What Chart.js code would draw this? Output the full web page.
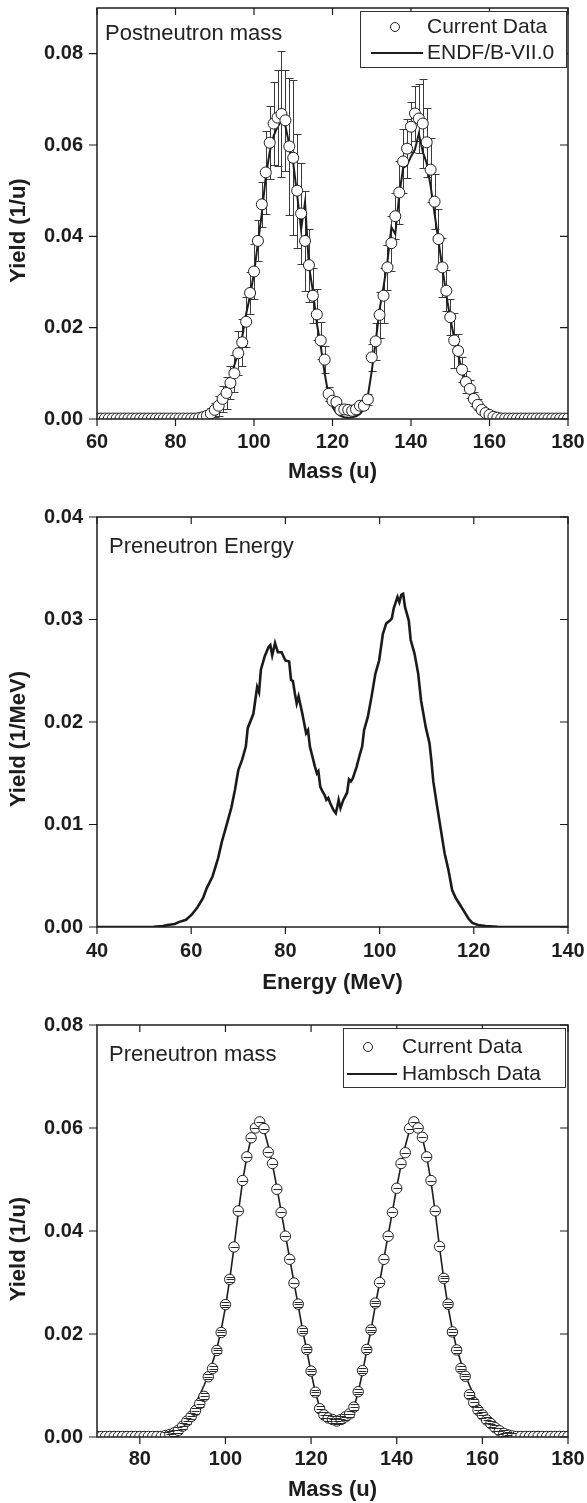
<!DOCTYPE html>
<html>
<head>
<meta charset="utf-8">
<script src="https://cdn.jsdelivr.net/npm/chart.js@4.4.1/dist/chart.umd.min.js"></script>
<style>
  html, body { margin: 0; padding: 0; background: #fff; }
  .panel { position: absolute; left: 0; width: 587px; }
  canvas { display: block; }
</style>
</head>
<body>
<div class="panel" style="top:0;height:500px"><canvas id="postMass" width="587" height="500"></canvas></div>
<div class="panel" style="top:500px;height:500px"><canvas id="preEnergy" width="587" height="500"></canvas></div>
<div class="panel" style="top:1000px;height:503px"><canvas id="preMass" width="587" height="503"></canvas></div>
<script>
// ---------- top panel: postneutron mass ----------
const postMass = [];
for (let m = 60; m <= 180; m++) postMass.push(m);

const postYield = [
  0.0001, 0.0001, 0.0001, 0.0001, 0.0001, 0.0001, 0.0001, 0.0001, 0.0001, 0.0001,
  0.0001, 0.0001, 0.0001, 0.0001, 0.0001, 0.0001, 0.0001, 0.0001, 0.0001, 0.0001,
  0.0001, 0.0001, 0.0001, 0.0001, 0.0001, 0.0001, 0.0002, 0.0004, 0.0007, 0.0012,
  0.0020, 0.0029, 0.0044, 0.0057, 0.0079, 0.0100, 0.0144, 0.0168, 0.0213, 0.0276,
  0.0323, 0.0390, 0.0470, 0.0540, 0.0605, 0.0647, 0.0660, 0.0668, 0.0654, 0.0597,
  0.0572, 0.0500, 0.0450, 0.0390, 0.0337, 0.0270, 0.0229, 0.0172, 0.0130, 0.0055,
  0.0040, 0.0037, 0.0020, 0.0021, 0.0020, 0.0018, 0.0021, 0.0029, 0.0029, 0.0043,
  0.0135, 0.0170, 0.0228, 0.0270, 0.0332, 0.0385, 0.0444, 0.0496, 0.0564, 0.0592,
  0.0640, 0.0669, 0.0658, 0.0647, 0.0606, 0.0546, 0.0476, 0.0394, 0.0332, 0.0281,
  0.0223, 0.0172, 0.0149, 0.0108, 0.0081, 0.0066, 0.0044, 0.0031, 0.0020, 0.0013,
  0.0009, 0.0005, 0.0003, 0.0001, 0.0001, 0.0001, 0.0001, 0.0001, 0.0001, 0.0001,
  0.0001, 0.0001, 0.0001, 0.0001, 0.0001, 0.0001, 0.0001, 0.0001, 0.0001, 0.0001,
  0.0001
];

const postErr = [
  0, 0, 0, 0, 0, 0, 0, 0, 0, 0,
  0, 0, 0, 0, 0, 0, 0, 0, 0, 0,
  0, 0, 0, 0, 0, 0, 0.0003, 0.0005, 0.0008, 0.0012,
  0.0016, 0.0022, 0.0028, 0.0035, 0.0036, 0.0040, 0.0048, 0.0052, 0.0055, 0.0045,
  0.0060, 0.0045, 0.0050, 0.0090, 0.0080, 0.0090, 0.0105, 0.0137, 0.0110, 0.0150,
  0.0170, 0.0125, 0.0110, 0.0110, 0.0080, 0.0060, 0.0055, 0.0040, 0.0030, 0.0015,
  0.0010, 0.0010, 0.0006, 0.0006, 0.0006, 0.0006, 0.0006, 0.0008, 0.0008, 0.0012,
  0.0030, 0.0040, 0.0050, 0.0060, 0.0050, 0.0060, 0.0050, 0.0070, 0.0070, 0.0065,
  0.0055, 0.0060, 0.0075, 0.0098, 0.0075, 0.0070, 0.0060, 0.0065, 0.0065, 0.0045,
  0.0040, 0.0060, 0.0038, 0.0028, 0.0025, 0.0020, 0.0016, 0.0012, 0.0009, 0.0006,
  0.0004, 0.0002, 0.0001, 0, 0, 0, 0, 0, 0, 0,
  0, 0, 0, 0, 0, 0, 0, 0, 0, 0,
  0
];

const endfYield = [
  0.0001, 0.0001, 0.0001, 0.0001, 0.0001, 0.0001, 0.0001, 0.0001, 0.0001, 0.0001,
  0.0001, 0.0001, 0.0001, 0.0001, 0.0001, 0.0001, 0.0001, 0.0001, 0.0001, 0.0001,
  0.0001, 0.0001, 0.0001, 0.0001, 0.0001, 0.0002, 0.0003, 0.0006, 0.0012, 0.0018,
  0.0027, 0.0038, 0.0052, 0.0068, 0.0088, 0.0118, 0.0146, 0.0180, 0.0230, 0.0270,
  0.0320, 0.0385, 0.0450, 0.0530, 0.0585, 0.0620, 0.0640, 0.0652, 0.0642, 0.0600,
  0.0560, 0.0490, 0.0415, 0.0475, 0.0335, 0.0280, 0.0210, 0.0160, 0.0100, 0.0052,
  0.0026, 0.0013, 0.0007, 0.0004, 0.0003, 0.0004, 0.0006, 0.0011, 0.0022, 0.0050,
  0.0105, 0.0170, 0.0240, 0.0290, 0.0345, 0.0420, 0.0405, 0.0490, 0.0550, 0.0556,
  0.0575, 0.0590, 0.0625, 0.0585, 0.0560, 0.0510, 0.0450, 0.0390, 0.0330, 0.0272,
  0.0220, 0.0178, 0.0140, 0.0108, 0.0082, 0.0062, 0.0045, 0.0032, 0.0022, 0.0014,
  0.0009, 0.0005, 0.0003, 0.0002, 0.0001, 0.0001, 0.0001, 0.0001, 0.0001, 0.0001,
  0.0001, 0.0001, 0.0001, 0.0001, 0.0001, 0.0001, 0.0001, 0.0001, 0.0001, 0.0001,
  0.0001
];

const postMassTicks = [60, 70, 80, 90, 100, 110, 120, 130, 140, 150, 160, 170, 180];
const postMassLabels = [60, 80, 100, 120, 140, 160, 180];
const postYieldTicks = [0, 0.01, 0.02, 0.03, 0.04, 0.05, 0.06, 0.07, 0.08, 0.09];
const postYieldLabels = [0, 0.02, 0.04, 0.06, 0.08];

// ---------- middle panel: preneutron energy ----------
const energyMeV = [
  40, 45, 50, 52, 54, 55, 56.5, 57.5, 58.9, 60.1, 61.3, 62.5, 63.3, 64.5, 65.7, 66.5,
  67.3, 68.5, 69.3, 70.0, 70.8, 71.6, 72.0, 73.2, 74.0, 74.4, 74.8, 75.6, 76.4, 76.8,
  77.2, 77.8, 78.4, 79.2, 80.0, 80.8, 81.2, 81.6, 82.0, 82.4, 82.8, 83.6, 84.4, 84.8,
  85.2, 86.3, 86.7, 87.0, 87.4, 87.9, 88.3, 88.7, 89.1, 89.5, 90.2, 90.7, 91.0, 91.3,
  91.7, 92.3, 93.1, 93.5, 93.9, 94.3, 95.1, 95.9, 96.3, 96.7, 97.5, 98.3, 99.1, 99.9,
  100.7, 101.4, 102.2, 102.6, 103.0, 103.8, 104.2, 104.6, 105.0, 105.4, 106.2, 106.6,
  107.4, 108.2, 108.8, 109.8, 110.6, 111.0, 111.4, 112.2, 113.0, 113.8, 114.6, 115.4,
  116.2, 117.3, 118.1, 118.9, 119.7, 120.9, 122.5, 125, 130, 135, 140
];
const energyYield = [
  0, 0, 0, 0.00003, 0.0001, 0.0002, 0.0003, 0.0005, 0.0007, 0.0012, 0.0019, 0.0028, 0.0038, 0.0049, 0.0067, 0.0083,
  0.0096, 0.0116, 0.0134, 0.0153, 0.0163, 0.0176, 0.0194, 0.0208, 0.0234, 0.0229, 0.0251, 0.0264, 0.0273, 0.0275,
  0.0265, 0.0277, 0.0268, 0.0268, 0.0260, 0.0259, 0.0241, 0.0240, 0.0228, 0.0218, 0.0225, 0.0208, 0.0189, 0.0192,
  0.0176, 0.0156, 0.0150, 0.0152, 0.0137, 0.0132, 0.0129, 0.0124, 0.0126, 0.0121, 0.0114, 0.0111, 0.0117, 0.0124,
  0.0116, 0.0124, 0.0131, 0.0144, 0.0142, 0.0145, 0.0156, 0.0170, 0.0176, 0.0192, 0.0205, 0.0225, 0.0247, 0.0260,
  0.0286, 0.0296, 0.0299, 0.0301, 0.0311, 0.0322, 0.0317, 0.0324, 0.0325, 0.0312, 0.0299, 0.0280,
  0.0267, 0.0247, 0.0221, 0.0195, 0.0179, 0.0162, 0.0142, 0.0118, 0.0095, 0.0072, 0.0056, 0.0036,
  0.0028, 0.0020, 0.0014, 0.0008, 0.0004, 0.0002, 0.0001, 0.00003, 0, 0, 0
];
const energyTicks = [40, 50, 60, 70, 80, 90, 100, 110, 120, 130, 140];
const energyLabels = [40, 60, 80, 100, 120, 140];
const energyYieldTicks = [0, 0.005, 0.01, 0.015, 0.02, 0.025, 0.03, 0.035, 0.04];
const energyYieldLabels = [0, 0.01, 0.02, 0.03, 0.04];

// ---------- bottom panel: preneutron mass ----------
const preMass = [];
for (let m = 70; m <= 180; m++) preMass.push(m);

const preYield = [
  0.0001, 0.0001, 0.0001, 0.0001, 0.0001, 0.0001, 0.0001, 0.0001, 0.0001, 0.0001,
  0.0001, 0.0001, 0.0001, 0.0001, 0.0001, 0.0001, 0.0003, 0.0005, 0.0008, 0.0013,
  0.0021, 0.0031, 0.0040, 0.0051, 0.0065, 0.0079, 0.0117, 0.0133, 0.0168, 0.0203,
  0.0257, 0.0306, 0.0369, 0.0439, 0.0498, 0.0544, 0.0581, 0.0600, 0.0612, 0.0599,
  0.0553, 0.0531, 0.0481, 0.0436, 0.0390, 0.0345, 0.0299, 0.0258, 0.0206, 0.0170,
  0.0128, 0.0087, 0.0055, 0.0043, 0.0037, 0.0034, 0.0031, 0.0034, 0.0039, 0.0045,
  0.0058, 0.0088, 0.0129, 0.0170, 0.0208, 0.0260, 0.0300, 0.0345, 0.0390, 0.0436,
  0.0483, 0.0531, 0.0552, 0.0599, 0.0612, 0.0600, 0.0582, 0.0544, 0.0498, 0.0439,
  0.0370, 0.0308, 0.0258, 0.0204, 0.0169, 0.0133, 0.0118, 0.0082, 0.0067, 0.0052,
  0.0043, 0.0033, 0.0026, 0.0018, 0.0012, 0.0007, 0.0004, 0.0002, 0.0001, 0.0001,
  0.0001, 0.0001, 0.0001, 0.0001, 0.0001, 0.0001, 0.0001, 0.0001, 0.0001, 0.0001,
  0.0001
];

const preErr = [
  0, 0, 0, 0, 0, 0, 0, 0, 0, 0,
  0, 0, 0, 0, 0, 0, 0.0006, 0.0006, 0.0006, 0.0006,
  0.0006, 0.0006, 0.0006, 0.0006, 0.0006, 0.0006, 0.0005, 0.0005, 0.0005, 0.0005,
  0.0005, 0.0005, 0, 0, 0, 0, 0, 0, 0, 0,
  0, 0, 0, 0, 0, 0, 0, 0.0005, 0.0005, 0.0005,
  0.0005, 0.0005, 0.0006, 0.0006, 0.0006, 0.0006, 0.0006, 0.0006, 0.0006, 0.0006,
  0.0006, 0.0005, 0.0005, 0.0005, 0.0005, 0.0005, 0, 0, 0, 0,
  0, 0, 0, 0, 0, 0, 0, 0, 0, 0,
  0, 0.0005, 0.0005, 0.0005, 0.0005, 0.0005, 0.0005, 0.0006, 0.0006, 0.0006,
  0.0006, 0.0006, 0.0006, 0.0006, 0.0006, 0.0006, 0.0006, 0.0006, 0, 0,
  0, 0, 0, 0, 0, 0, 0, 0, 0, 0,
  0
];

const hambschYield = [
  0.0001, 0.0001, 0.0001, 0.0001, 0.0001, 0.0001, 0.0001, 0.0001, 0.0001, 0.0001,
  0.0001, 0.0001, 0.0001, 0.0001, 0.0001, 0.0003, 0.0005, 0.0008, 0.0013, 0.0019,
  0.0027, 0.0037, 0.0050, 0.0065, 0.0082, 0.0100, 0.0121, 0.0145, 0.0172, 0.0208,
  0.0252, 0.0306, 0.0368, 0.0436, 0.0496, 0.0545, 0.0580, 0.0598, 0.0607, 0.0596,
  0.0565, 0.0528, 0.0485, 0.0438, 0.0392, 0.0347, 0.0300, 0.0255, 0.0208, 0.0168,
  0.0125, 0.0087, 0.0058, 0.0042, 0.0035, 0.0031, 0.0030, 0.0031, 0.0035, 0.0042,
  0.0058, 0.0087, 0.0125, 0.0168, 0.0208, 0.0255, 0.0300, 0.0347, 0.0392, 0.0438,
  0.0485, 0.0528, 0.0565, 0.0596, 0.0607, 0.0598, 0.0580, 0.0545, 0.0496, 0.0436,
  0.0368, 0.0306, 0.0252, 0.0208, 0.0172, 0.0145, 0.0121, 0.0100, 0.0082, 0.0065,
  0.0050, 0.0037, 0.0027, 0.0019, 0.0013, 0.0008, 0.0005, 0.0003, 0.0001, 0.0001,
  0.0001, 0.0001, 0.0001, 0.0001, 0.0001, 0.0001, 0.0001, 0.0001, 0.0001, 0.0001,
  0.0001
];
const preMassTicks = [70, 80, 90, 100, 110, 120, 130, 140, 150, 160, 170, 180];
const preMassLabels = [80, 100, 120, 140, 160, 180];
const preYieldTicks = [0, 0.01, 0.02, 0.03, 0.04, 0.05, 0.06, 0.07, 0.08];
const preYieldLabels = [0, 0.02, 0.04, 0.06, 0.08];

// ---------- drawing helpers ----------
const fontFamily = '"Liberation Sans", Arial, Helvetica, sans-serif';
const ink = '#1d1d1d';

Chart.defaults.font.family = fontFamily;

function pairs(xs, ys) {
  return xs.map((x, i) => ({ x: x, y: ys[i] }));
}

function tickLabel(labels, digits) {
  return function (value) {
    const hit = labels.some(l => Math.abs(l - value) < 1e-9);
    if (!hit) return null;
    return value.toFixed(digits);
  };
}

// frame with ticks on all four sides, plus y title, note and legend box
const framePlugin = {
  id: 'frame',
  afterDraw(chart, args, opts) {
    const { ctx, chartArea: a, scales: { x, y } } = chart;
    ctx.save();
    ctx.strokeStyle = ink;
    ctx.lineWidth = 1.5;
    ctx.strokeRect(a.left, a.top, a.right - a.left, a.bottom - a.top);

    ctx.lineWidth = 1.2;
    ctx.beginPath();
    x.ticks.forEach(t => {
      const px = x.getPixelForValue(t.value);
      const major = t.label !== null && t.label !== undefined;
      ctx.moveTo(px, a.bottom);
      ctx.lineTo(px, a.bottom + (major ? 7 : 5));
      ctx.moveTo(px, a.top);
      ctx.lineTo(px, a.top + (major ? 7 : 6));
    });
    y.ticks.forEach(t => {
      const py = y.getPixelForValue(t.value);
      const major = t.label !== null && t.label !== undefined;
      ctx.moveTo(a.left, py);
      ctx.lineTo(a.left - (major ? 8 : 6), py);
      ctx.moveTo(a.right, py);
      ctx.lineTo(a.right - (major ? 8 : 6), py);
    });
    ctx.stroke();

    // y axis title
    ctx.fillStyle = ink;
    ctx.font = 'bold 22px ' + fontFamily;
    ctx.textAlign = 'center';
    ctx.textBaseline = 'middle';
    ctx.save();
    ctx.translate(opts.yTitleX, (a.top + a.bottom) / 2 + opts.yTitleShift);
    ctx.rotate(-Math.PI / 2);
    ctx.fillText(opts.yTitle, 0, 0);
    ctx.restore();

    // panel note
    ctx.font = '22px ' + fontFamily;
    ctx.textAlign = 'left';
    ctx.fillStyle = '#222';
    ctx.fillText(opts.note.text, opts.note.x, opts.note.y);

    // legend
    if (opts.legend) {
      const L = opts.legend;
      ctx.fillStyle = '#fff';
      ctx.fillRect(L.box[0], L.box[1], L.box[2] - L.box[0], L.box[3] - L.box[1]);
      ctx.strokeStyle = '#333';
      ctx.lineWidth = 1;
      ctx.strokeRect(L.box[0] + 0.5, L.box[1] + 0.5, L.box[2] - L.box[0], L.box[3] - L.box[1]);
      ctx.font = '21px ' + fontFamily;
      L.items.forEach(it => {
        ctx.strokeStyle = ink;
        if (it.kind === 'circle') {
          ctx.lineWidth = 1;
          ctx.beginPath();
          ctx.arc(it.sx, it.y, it.r, 0, Math.PI * 2);
          ctx.stroke();
        } else {
          ctx.lineWidth = 2;
          ctx.beginPath();
          ctx.moveTo(it.sx, it.y);
          ctx.lineTo(it.ex, it.y);
          ctx.stroke();
        }
        ctx.fillStyle = '#222';
        ctx.fillText(it.text, L.textX, it.y);
      });
    }
    ctx.restore();
  }
};

// vertical error bars (behind the markers) or cap stripes (over the markers)
function drawErrors(chart, opts) {
  const { ctx, chartArea: a, scales: { x, y } } = chart;
  const ds = chart.data.datasets[opts.dataset];
  ctx.save();
  ctx.beginPath();
  ctx.rect(a.left, a.top, a.right - a.left, a.bottom - a.top);
  ctx.clip();
  ctx.strokeStyle = opts.color;
  ctx.lineWidth = 1;
  ctx.beginPath();
  ds.data.forEach((p, i) => {
    const e = opts.errors[i];
    const px = Math.round(x.getPixelForValue(p.x)) + 0.5;
    if (opts.center && p.y > 0.0003) {
      const cy = Math.round(y.getPixelForValue(p.y)) + 0.5;
      ctx.moveTo(px - opts.cap, cy);
      ctx.lineTo(px + opts.cap, cy);
    }
    if (!e) return;
    const top = Math.round(y.getPixelForValue(p.y + e)) + 0.5;
    const bot = Math.round(y.getPixelForValue(p.y - e)) + 0.5;
    if (opts.stem) {
      ctx.moveTo(px, top);
      ctx.lineTo(px, bot);
    }
    ctx.moveTo(px - opts.cap, top);
    ctx.lineTo(px + opts.cap, top);
    ctx.moveTo(px - opts.cap, bot);
    ctx.lineTo(px + opts.cap, bot);
  });
  ctx.stroke();
  ctx.restore();
}

const errorPlugin = {
  id: 'errorBars',
  beforeDatasetsDraw(chart, args, opts) {
    if (opts.errors && !opts.over) drawErrors(chart, opts);
  },
  afterDatasetsDraw(chart, args, opts) {
    if (opts.errors && opts.over) drawErrors(chart, opts);
  }
};

const tickFont = { family: fontFamily, size: 20, weight: 'bold' };
const titleFont = { family: fontFamily, size: 22, weight: 'bold' };

function makeChart(id, cfg) {
  return new Chart(document.getElementById(id), {
    type: 'scatter',
    data: { datasets: cfg.datasets },
    options: {
      responsive: false,
      animation: false,
      events: [],
      layout: { padding: cfg.padding },
      plugins: {
        legend: { display: false },
        tooltip: { enabled: false },
        frame: cfg.frame,
        errorBars: cfg.errorBars || {}
      },
      scales: {
        x: {
          type: 'linear',
          min: cfg.xMin,
          max: cfg.xMax,
          afterBuildTicks: s => { s.ticks = cfg.xTicks.map(v => ({ value: v })); },
          afterFit: s => {
            s.height = cfg.xHeight;
            s.paddingLeft = 0;
            s.paddingRight = 0;
          },
          grid: { display: false, drawTicks: false },
          border: { display: false },
          ticks: {
            autoSkip: false, maxRotation: 0, padding: cfg.xPad, color: ink,
            font: tickFont, callback: tickLabel(cfg.xLabels, 0)
          },
          title: {
            display: true, text: cfg.xTitle, color: ink, font: titleFont,
            padding: { top: 0, bottom: cfg.xTitlePad }
          }
        },
        y: {
          type: 'linear',
          min: cfg.yMin,
          max: cfg.yMax,
          afterBuildTicks: s => { s.ticks = cfg.yTicks.map(v => ({ value: v })); },
          afterFit: s => {
            s.width = 97;
            s.paddingTop = 0;
            s.paddingBottom = 0;
          },
          grid: { display: false, drawTicks: false },
          border: { display: false },
          ticks: {
            autoSkip: false, padding: 14, color: ink,
            font: tickFont, callback: tickLabel(cfg.yLabels, 2)
          }
        }
      }
    },
    plugins: [framePlugin, errorPlugin]
  });
}

// top panel
makeChart('postMass', {
  padding: { top: 8, right: 19, bottom: 0, left: 0 },
  xMin: 60, xMax: 180, xTicks: postMassTicks, xLabels: postMassLabels,
  yMin: 0, yMax: 0.09, yTicks: postYieldTicks, yLabels: postYieldLabels,
  xHeight: 81, xPad: 11, xTitle: 'Mass (u)', xTitlePad: 15,
  datasets: [
    {
      label: 'Current Data',
      data: pairs(postMass, postYield),
      pointRadius: 5.5, pointBorderWidth: 1,
      pointBackgroundColor: '#fff', pointBorderColor: ink,
      showLine: false, clip: 0, order: 1
    },
    {
      label: 'ENDF/B-VII.0',
      data: pairs(postMass, endfYield),
      showLine: true, borderColor: ink, borderWidth: 2, pointRadius: 0,
      tension: 0, order: 2
    }
  ],
  errorBars: { dataset: 0, errors: postErr, color: '#3a3a3a', cap: 4, stem: true },
  frame: {
    yTitle: 'Yield (1/u)', yTitleX: 19, yTitleShift: 17,
    note: { text: 'Postneutron mass', x: 105, y: 34 },
    legend: {
      box: [360, 11, 566, 67], textX: 427,
      items: [
        { kind: 'circle', sx: 395, r: 4.5, y: 27, text: 'Current Data' },
        { kind: 'line', sx: 371, ex: 423, y: 53, text: 'ENDF/B-VII.0' }
      ]
    }
  }
});

// middle panel
makeChart('preEnergy', {
  padding: { top: 17, right: 19, bottom: 0, left: 0 },
  xMin: 40, xMax: 140, xTicks: energyTicks, xLabels: energyLabels,
  yMin: 0, yMax: 0.04, yTicks: energyYieldTicks, yLabels: energyYieldLabels,
  xHeight: 73, xPad: 12, xTitle: 'Energy (MeV)', xTitlePad: 4,
  datasets: [
    {
      label: 'Preneutron Energy',
      data: pairs(energyMeV, energyYield),
      showLine: true, borderColor: '#1a1a1a', borderWidth: 2.6, pointRadius: 0,
      tension: 0
    }
  ],
  frame: {
    yTitle: 'Yield (1/MeV)', yTitleX: 19, yTitleShift: 17,
    note: { text: 'Preneutron Energy', x: 109, y: 47 }
  }
});

// bottom panel
makeChart('preMass', {
  padding: { top: 25, right: 19, bottom: 0, left: 0 },
  xMin: 70, xMax: 180, xTicks: preMassTicks, xLabels: preMassLabels,
  yMin: 0, yMax: 0.08, yTicks: preYieldTicks, yLabels: preYieldLabels,
  xHeight: 66, xPad: 10, xTitle: 'Mass (u)', xTitlePad: 0,
  datasets: [
    {
      label: 'Current Data',
      data: pairs(preMass, preYield),
      pointRadius: 5.2, pointBorderWidth: 1,
      pointBackgroundColor: '#fff', pointBorderColor: ink,
      showLine: false, clip: 0, order: 1
    },
    {
      label: 'Hambsch Data',
      data: pairs(preMass, hambschYield),
      showLine: true, borderColor: ink, borderWidth: 1.6, pointRadius: 0,
      tension: 0, order: 2
    }
  ],
  errorBars: { dataset: 0, errors: preErr, color: '#2a2a2a', cap: 4, stem: false, center: true, over: true },
  frame: {
    yTitle: 'Yield (1/u)', yTitleX: 19, yTitleShift: 18,
    note: { text: 'Preneutron mass', x: 109, y: 55 },
    legend: {
      box: [343, 28, 565, 87], textX: 402,
      items: [
        { kind: 'circle', sx: 368, r: 4.5, y: 47, text: 'Current Data' },
        { kind: 'line', sx: 347, ex: 397, y: 74, text: 'Hambsch Data' }
      ]
    }
  }
});
</script>
</body>
</html>
